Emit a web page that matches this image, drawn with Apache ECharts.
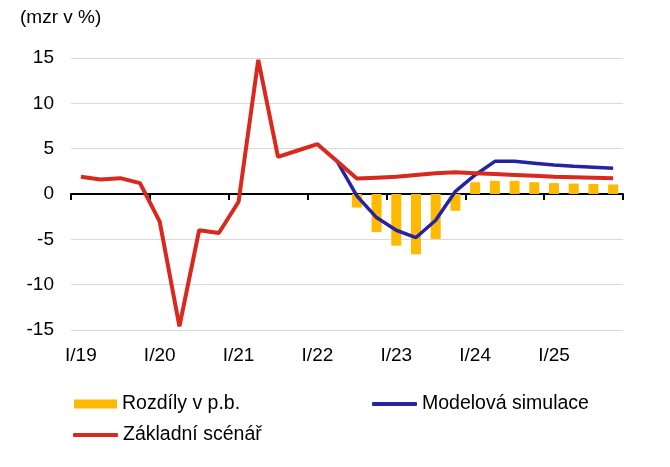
<!DOCTYPE html>
<html>
<head>
<meta charset="utf-8">
<script src="https://cdn.jsdelivr.net/npm/echarts@6/dist/echarts.min.js"></script>
<style>html,body{margin:0;padding:0;background:#fff;}#c{width:670px;height:467px;}</style>
</head>
<body>
<div id="c"></div>
<script>
var categories = ['I/19','II/19','III/19','IV/19','I/20','II/20','III/20','IV/20','I/21','II/21','III/21','IV/21','I/22','II/22','III/22','IV/22','I/23','II/23','III/23','IV/23','I/24','II/24','III/24','IV/24','I/25','II/25','III/25','IV/25'];
var baseline = [1.9,1.6,1.75,1.2,-3.05,-14.6,-4.0,-4.3,-0.85,14.8,4.1,4.8,5.5,3.6,1.7,1.8,1.9,2.1,2.3,2.4,2.3,2.2,2.1,2.0,1.9,1.85,1.8,1.75];
var simulation = [null,null,null,null,null,null,null,null,null,null,null,null,null,3.6,-0.2,-2.6,-4.0,-4.8,-2.9,0.3,2.1,3.6,3.6,3.4,3.2,3.05,2.95,2.85];
var differences = [null,null,null,null,null,null,null,null,null,null,null,null,null,null,-1.5,-4.2,-5.7,-6.65,-4.95,-1.85,1.3,1.45,1.45,1.3,1.2,1.15,1.1,1.05];
var yTicks = [-15,-10,-5,0,5,10,15];

var FONT = 'Liberation Sans, Arial, sans-serif';
var chart = echarts.init(document.getElementById('c'));
var legendText = {fontFamily: FONT, fontSize: 19.5, color: '#000'};
chart.setOption({
  animation: false,
  title: {text: '(mzr v %)', left: 20, top: 8, padding: 0, textStyle: {fontFamily: FONT, fontSize: 19, fontWeight: 'normal', color: '#000'}},
  grid: {left: 71, right: 47, top: 58, bottom: 137, containLabel: false, outerBoundsMode: 'none'},
  legend: [
    {data: [{name: 'Rozdíly v p.b.', icon: 'rect'}], left: 74, top: 394, padding: 0, itemWidth: 43, itemHeight: 9, itemGap: 5, textStyle: legendText},
    {data: [{name: 'Modelová simulace', icon: 'roundRect'}], left: 372, top: 394, padding: 0, itemWidth: 45, itemHeight: 4, textStyle: legendText},
    {data: [{name: 'Základní scénář', icon: 'roundRect'}], left: 73, top: 425, padding: 0, itemWidth: 45, itemHeight: 4, textStyle: legendText}
  ],
  xAxis: [
    {type: 'category', data: categories, position: 'bottom', boundaryGap: true,
     axisLine: {show: false, onZero: false}, axisTick: {show: false},
     axisLabel: {interval: 3, margin: 16, fontFamily: FONT, fontSize: 19, color: '#000'}},
    {type: 'category', data: categories, position: 'top', boundaryGap: true,
     axisLine: {show: true, onZero: true, lineStyle: {color: '#000', width: 2}},
     axisTick: {show: true, interval: 3, inside: true, length: 6, lineStyle: {color: '#000', width: 2}},
     axisLabel: {show: false}, splitLine: {show: false}}
  ],
  yAxis: {type: 'value', min: yTicks[0], max: yTicks[yTicks.length-1], interval: 5,
    axisLine: {show: false}, axisTick: {show: false},
    axisLabel: {margin: 17, fontFamily: FONT, fontSize: 19, color: '#000'},
    splitLine: {lineStyle: {color: '#d9d9d9', width: 1}}},
  series: [
    {name: 'Rozdíly v p.b.', type: 'bar', data: differences, barWidth: 10, xAxisIndex: 0, itemStyle: {color: '#FFB900'}},
    {name: 'Modelová simulace', type: 'line', data: simulation, xAxisIndex: 0, symbol: 'none', color: '#2323A3', lineStyle: {color: '#2323A3', width: 3.5}},
    {name: 'Základní scénář', type: 'line', data: baseline, xAxisIndex: 0, symbol: 'none', color: '#D8291F', lineStyle: {color: '#D8291F', width: 4}}
  ]
});
</script>
</body>
</html>
